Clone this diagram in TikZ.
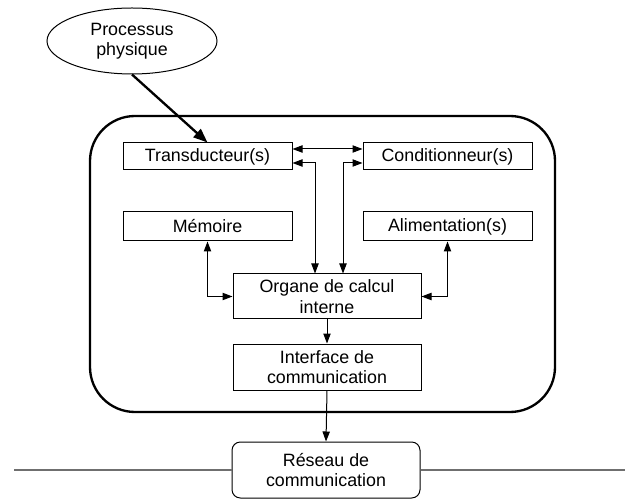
\documentclass[tikz,border=0pt]{standalone}
\usepackage{fontspec}
\setmainfont{Liberation Sans}
\usepackage{tikz}
\usetikzlibrary{shapes}
\usetikzlibrary{arrows.meta}
\definecolor{linegray}{HTML}{6F6F6F}

\tikzset{
  block/.style={draw, line width=0.6pt, align=center, inner sep=0pt,
    font=\fontsize{10.7}{12.3}\selectfont},
  link/.style={line width=0.6pt, >={Triangle[length=6pt,width=4.4pt]}}
}

\begin{document}
\begin{tikzpicture}[x=0.6pt,y=-0.6pt]
           \useasboundingbox (0,0) rectangle (625,499);

           % Capteur (outline)
           \draw[line width=1.4pt, rounded corners=27pt] (90,116) rectangle (555,412);

           % Physical process
           \node[block, ellipse, minimum width=102pt, minimum height=39.6pt] (processus) at (132,41) {Processus\\physique};

           % Inner blocks
           \node[block, minimum width=101.4pt, minimum height=16.2pt] (trans) at (207.5,156.5) {Transducteur(s)};
           \node[block, minimum width=101.4pt, minimum height=16.2pt] (cond) at (447.5,156.5) {Conditionneur(s)};
           \node[block, minimum width=101.4pt, minimum height=17.4pt] (memoire) at (207.5,226.5) {Mémoire};
           \node[block, minimum width=101.4pt, minimum height=17.4pt] (alim) at (447.5,226.5) {Alimentation(s)};
           \node[block, minimum width=112.8pt, minimum height=27pt] (organe) at (327,296.5) {Organe de calcul\\interne};
           \node[block, minimum width=112.8pt, minimum height=27.6pt] (interface) at (327,367) {Interface de\\communication};

           % Network
           \node[block, rounded corners=5pt, minimum width=112.8pt, minimum height=33.6pt] (reseau) at (326,470) {Réseau de\\communication};
           \coordinate (busL) at (14,470);
           \coordinate (busR) at (625,470);
           \draw[linegray, line width=0.9pt] (busL) -- (reseau.west);
           \draw[linegray, line width=0.9pt] (reseau.east) -- (busR);

           % links
           \draw[link, ->, line width=1.4pt, >={Triangle[length=8.5pt,width=6.5pt]}] (processus.south) -- (trans.north);
           \draw[link, <->] ([yshift=4.5pt]trans.east) -- ([yshift=4.5pt]cond.west);
           \draw[link, <->] ([yshift=-3.9pt]trans.east) -| ([xshift=-7.2pt]organe.north);
           \draw[link, <->] ([yshift=-3.9pt]cond.west) -| ([xshift=9.6pt]organe.north);
           \draw[link, <->] (memoire.south) |- (organe.west);
           \draw[link, <->] (alim.south) |- (organe.east);
           \draw[link, ->] (organe.south) -- (interface.north);
           \draw[link, ->] (interface.south) -- (reseau.north);

          \end{tikzpicture}
\end{document}
